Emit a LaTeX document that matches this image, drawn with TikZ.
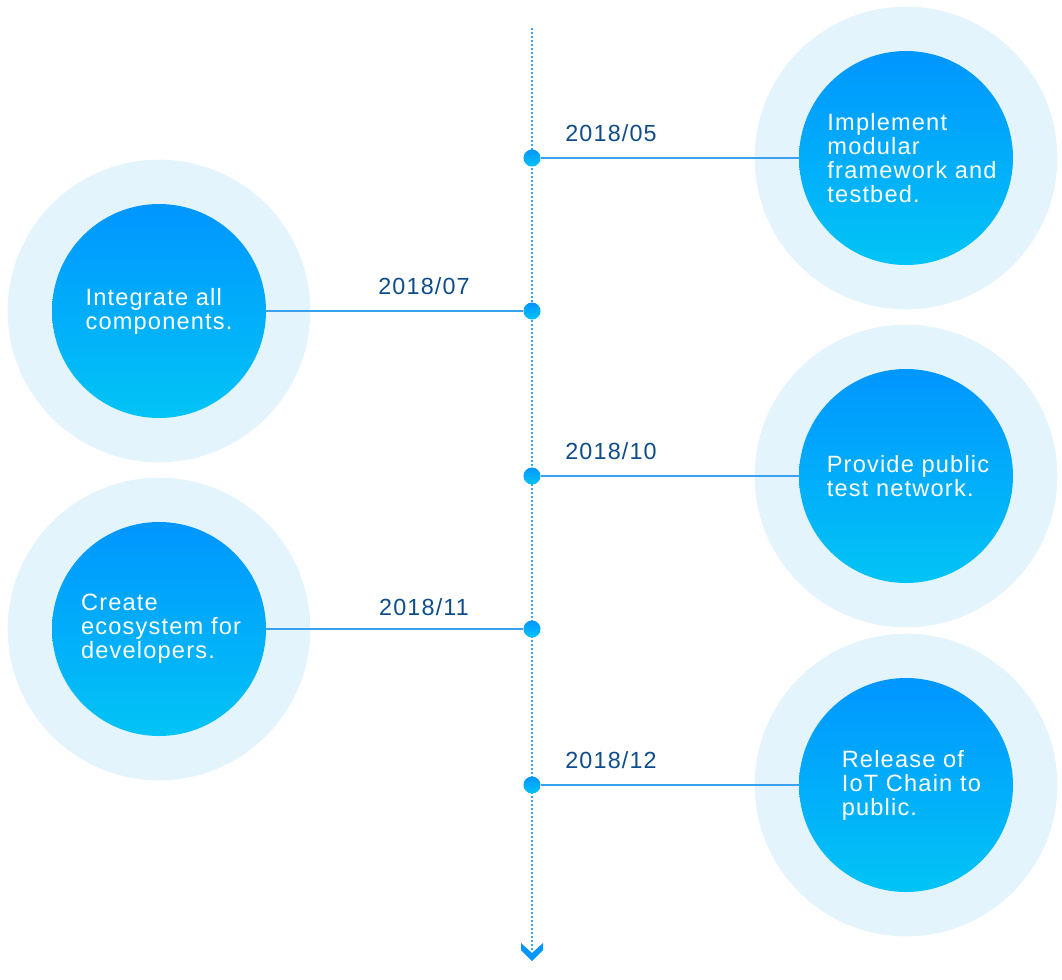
\documentclass[tikz,border=0pt]{standalone}
\usepackage{fontspec}
\setmainfont{Liberation Sans}
\newfontfamily\roadfont{Liberation Sans}[LetterSpace=5]
\usepackage{tikz}
\usetikzlibrary{positioning}
\usepackage{xcolor}
\definecolor{rmblue}{RGB}{0,150,255}
\definecolor{rmcyan}{RGB}{2,196,245}
\definecolor{rmhalo}{RGB}{228,244,253}
\definecolor{rmline}{RGB}{58,160,240}
\definecolor{rmdate}{RGB}{14,77,138}
\tikzstyle{halo} = [circle, fill=rmhalo, minimum size=227pt, inner sep=0pt]
\tikzstyle{goal} = [circle, minimum size=160.5pt, inner sep=0pt, top color=rmblue, bottom color=rmcyan, text=white, align=left, font=\roadfont\fontsize{17.7}{18}\selectfont]
\tikzstyle{milestone} = [circle, minimum size=12.8pt, inner sep=0pt, top color=rmblue, bottom color=rmcyan]
\tikzstyle{date} = [text=rmdate, font=\roadfont\fontsize{17.5}{18}\selectfont]
\tikzstyle{link} = [rmline, line width=0.9pt]
\tikzstyle{axis} = [rmline, line width=1.2pt, dash pattern=on 1.5pt off 1.5pt]

\begin{document}
\begin{tikzpicture}[x=0.75pt, y=-0.75pt]
\useasboundingbox (0,0) rectangle (1062,979);
% time axis
\coordinate (axis_top) at (532,28);
\coordinate (axis_end) at (532,950);
\draw[axis] (axis_top) -- (axis_end);
\fill[rmblue] (521,943) -- (532,953) -- (543,943) -- (543,950) -- (532,961) -- (521,950) -- cycle;

% goals
\node[halo] at (906,158) {};
\node[halo] at (159,311) {};
\node[halo] at (906,476) {};
\node[halo] at (159,629) {};
\node[halo] at (906,785) {};
\node (g05) [goal] at (906,158) {\hspace*{9pt}Implement\\\hspace*{9pt}modular\\\hspace*{9pt}framework and\\\hspace*{9pt}testbed.};
\node (g07) [goal] at (159,311) {Integrate all\\components.};
\node (g10) [goal] at (906,476) {\hspace*{3pt}Provide public\\\hspace*{3pt}test network.};
\node (g11) [goal] at (159,629) {\hspace*{3pt}Create\\\hspace*{3pt}ecosystem for\\\hspace*{3pt}developers.};
\node (g12) [goal] at (906,785) {\hspace*{8pt}Release of\\\hspace*{8pt}IoT Chain to\\\hspace*{8pt}public.};

% milestones
\node (m05) [milestone] at (532,158) {};
\node (m07) [milestone] at (532,311) {};
\node (m10) [milestone] at (532,476) {};
\node (m11) [milestone] at (532,629) {};
\node (m12) [milestone] at (532,785) {};

\draw[link] (m05) -- (g05);
\draw[link] (m07) -- (g07);
\draw[link] (m10) -- (g10);
\draw[link] (m11) -- (g11);
\draw[link] (m12) -- (g12);

\node[date] at (611,133) {2018/05};
\node[date] at (424,286) {2018/07};
\node[date] at (611,451) {2018/10};
\node[date] at (424,607) {2018/11};
\node[date] at (611,760) {2018/12};
\end{tikzpicture}
\end{document}
